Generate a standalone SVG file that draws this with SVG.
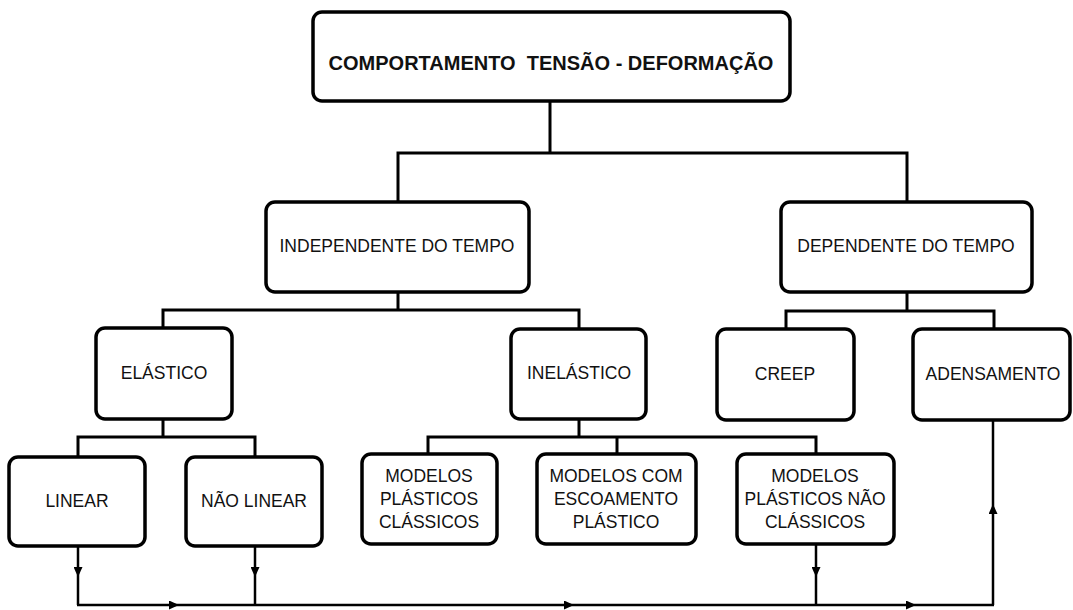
<svg xmlns="http://www.w3.org/2000/svg" width="1073" height="610" viewBox="0 0 1073 610">
<style>
.box{fill:#fff;stroke:#000;stroke-width:3.5}
.t{font-family:"Liberation Sans",Arial,sans-serif;font-size:17.5px;fill:#111;text-anchor:middle}
.tb{font-family:"Liberation Sans",Arial,sans-serif;font-size:20px;font-weight:bold;fill:#111;text-anchor:middle}
.c{fill:none;stroke:#000;stroke-width:3}
.c2{fill:none;stroke:#000;stroke-width:2.5}
.am{marker-mid:url(#ah)}
</style>
<defs>
<marker id="ah" markerUnits="userSpaceOnUse" markerWidth="10" markerHeight="9" viewBox="0 0 10 9" refX="10" refY="4.5" orient="auto"><path d="M0,0 L10,4.5 L0,9 z" fill="#000"/></marker>
</defs>
<g id="connectors">
<path class="c" d="M550,101 V153"/>
<path class="c" d="M398,202 V153 H907 V202"/>
<path class="c" d="M398,292 V310"/>
<path class="c" d="M163,328 V310 H579 V329"/>
<path class="c" d="M907,292 V311"/>
<path class="c" d="M786,329 V311 H994 V329"/>
<path class="c" d="M163,419 V437"/>
<path class="c" d="M78,457 V437 H255 V457"/>
<path class="c" d="M579,419 V437"/>
<path class="c" d="M428,454 V437 H816 V454"/>
<path class="c" d="M617,437 V454"/>
<path class="c2 am" d="M78,546 L78,577 L78,605"/>
<path class="c2 am" d="M255,546 L255,577 L255,605"/>
<path class="c2 am" d="M816,544 L816,577 L816,605"/>
<path class="c2 am" d="M77,605 L179,605 L574,605 L916,605 L994,605"/>
<path class="c2 am" d="M993,605 L993,504 L993,420"/>
</g>
<g id="n-top"><rect class="box" x="313" y="12" width="477" height="89" rx="9"/><text class="tb" x="551" y="70" xml:space="preserve">COMPORTAMENTO  TENSÃO - DEFORMAÇÃO</text></g>
<g id="n-indep"><rect class="box" x="266" y="202" width="263" height="90" rx="9"/><text class="t" x="397" y="252">INDEPENDENTE DO TEMPO</text></g>
<g id="n-dep"><rect class="box" x="781" y="202" width="251" height="90" rx="9"/><text class="t" x="906" y="252">DEPENDENTE DO TEMPO</text></g>
<g id="n-elastico"><rect class="box" x="96" y="328" width="136" height="91" rx="9"/><text class="t" x="164" y="379">ELÁSTICO</text></g>
<g id="n-inelastico"><rect class="box" x="511" y="329" width="135" height="90" rx="9"/><text class="t" x="579" y="379">INELÁSTICO</text></g>
<g id="n-creep"><rect class="box" x="717" y="329" width="137" height="91" rx="9"/><text class="t" x="785" y="380">CREEP</text></g>
<g id="n-adensamento"><rect class="box" x="913" y="329" width="157" height="91" rx="9"/><text class="t" x="993" y="380">ADENSAMENTO</text></g>
<g id="n-linear"><rect class="box" x="9" y="457" width="136" height="89" rx="9"/><text class="t" x="77" y="507">LINEAR</text></g>
<g id="n-naolinear"><rect class="box" x="186" y="457" width="136" height="89" rx="9"/><text class="t" x="254" y="507">NÃO LINEAR</text></g>
<g id="n-mpc"><rect class="box" x="362" y="454" width="135" height="90" rx="9"/><text class="t" x="429" y="482">MODELOS</text><text class="t" x="429" y="505">PLÁSTICOS</text><text class="t" x="429" y="528">CLÁSSICOS</text></g>
<g id="n-mcep"><rect class="box" x="537" y="454" width="159" height="90" rx="9"/><text class="t" x="616" y="482">MODELOS COM</text><text class="t" x="616" y="505">ESCOAMENTO</text><text class="t" x="616" y="528">PLÁSTICO</text></g>
<g id="n-mpnc"><rect class="box" x="737" y="454" width="157" height="90" rx="9"/><text class="t" x="815" y="482">MODELOS</text><text class="t" x="815" y="505">PLÁSTICOS NÃO</text><text class="t" x="815" y="528">CLÁSSICOS</text></g>
</svg>
